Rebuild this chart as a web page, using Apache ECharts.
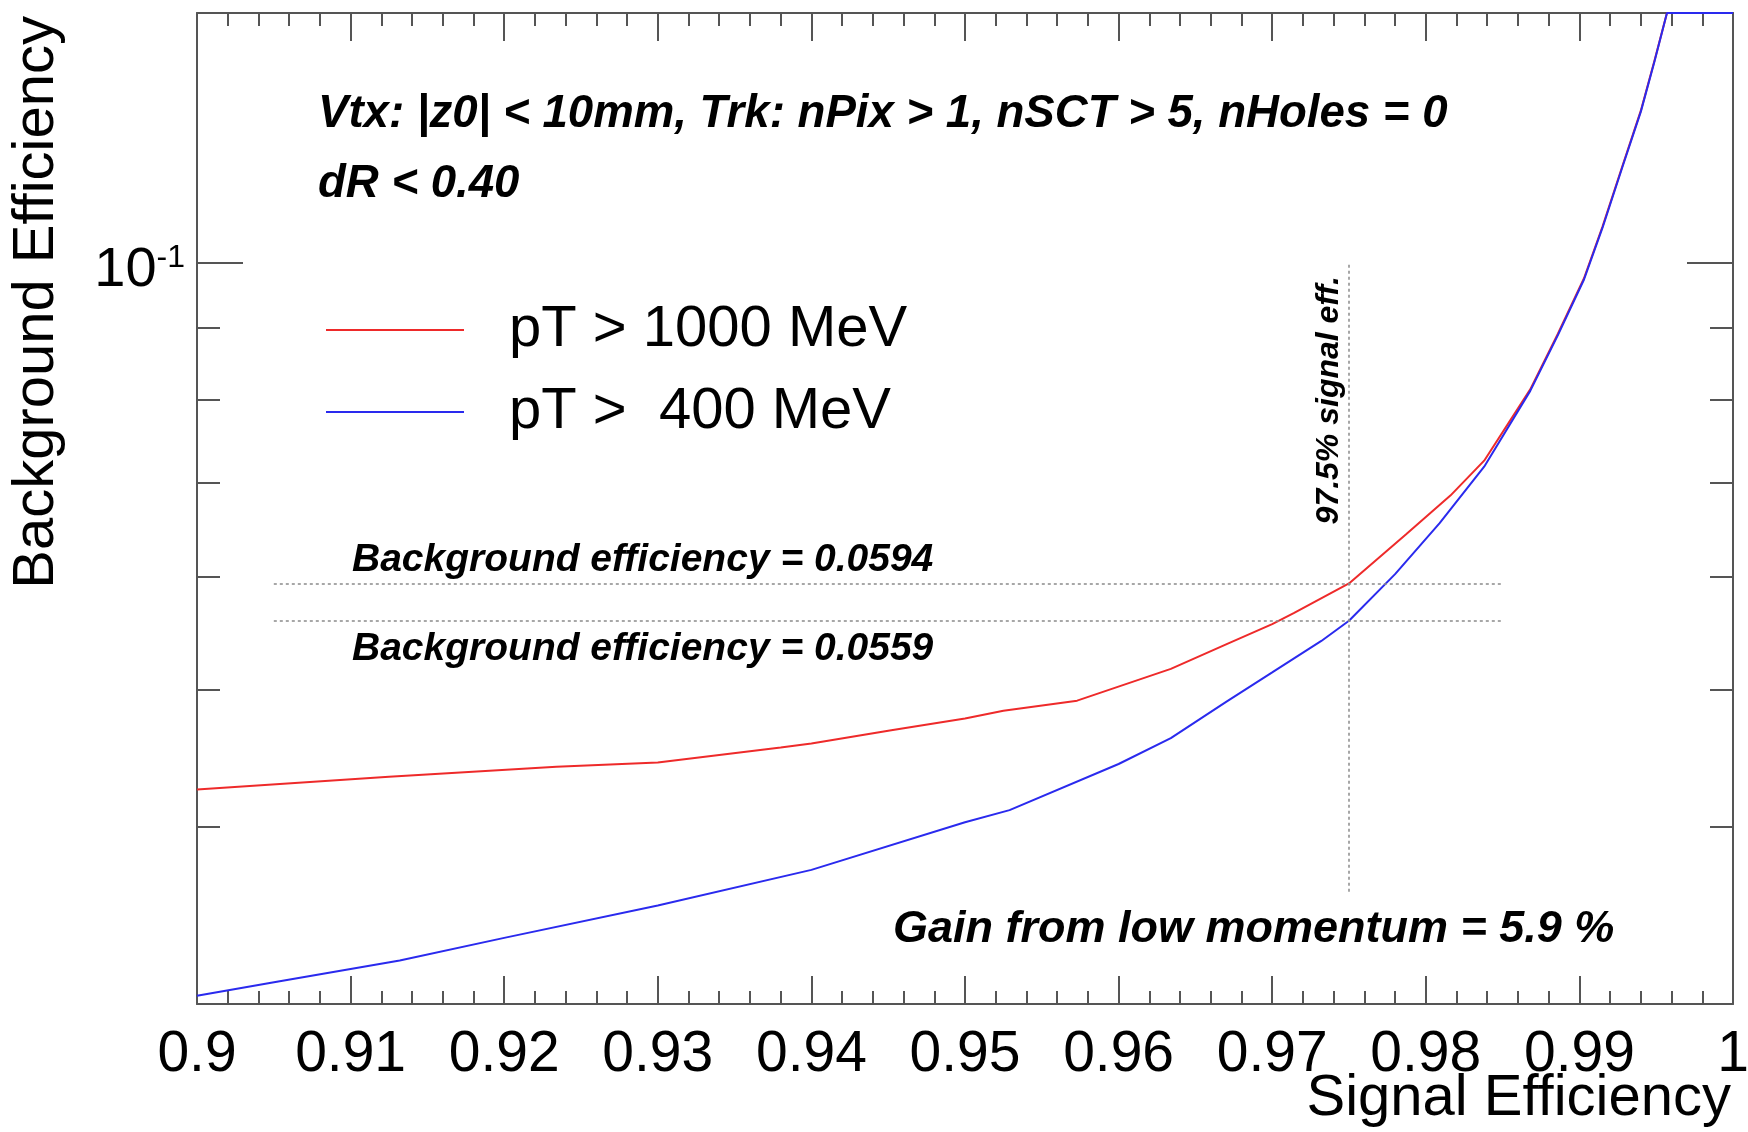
<!DOCTYPE html>
<html>
<head>
<meta charset="utf-8">
<title>Background vs Signal Efficiency</title>
<script src="https://cdn.jsdelivr.net/npm/echarts@6/dist/echarts.min.js"></script>
<style>
  html, body { margin: 0; padding: 0; background: #ffffff; }
  #chart { width: 1748px; height: 1132px; }
</style>
</head>
<body>
<div id="chart"></div>
<script>
// ROC curves: [signal efficiency, background efficiency]
var pt1000 = [
    [0.900, 0.0425], [0.9125, 0.0434], [0.9234, 0.0441], [0.930, 0.0444],
    [0.938, 0.0455], [0.940, 0.0458], [0.9452, 0.0468], [0.950, 0.0477],
    [0.9525, 0.0483], [0.9573, 0.0491], [0.9634, 0.0517],
    [0.967, 0.0538], [0.970, 0.0556], [0.9714, 0.0566], [0.975, 0.0594],
    [0.9787, 0.0643], [0.9816, 0.0685], [0.9838, 0.0725],
    [0.9868, 0.0814], [0.9886, 0.0891], [0.9903, 0.0975], [0.9915, 0.1060],
    [0.9928, 0.1170], [0.9940, 0.1280], [0.9949, 0.1390], [0.9957, 0.1500],
    [1.000, 0.1500]
];
var pt400 = [
    [0.900, 0.0304], [0.9052, 0.0311], [0.9132, 0.0322], [0.920, 0.0334],
    [0.930, 0.0352], [0.940, 0.0373], [0.950, 0.0403], [0.9529, 0.0411],
    [0.960, 0.0443], [0.9634, 0.0462], [0.967, 0.0490], [0.970, 0.0514],
    [0.9732, 0.0541], [0.975, 0.0559], [0.978, 0.0603], [0.9809, 0.0655],
    [0.9838, 0.0718], [0.9868, 0.0812], [0.9886, 0.0889], [0.9903, 0.0973],
    [0.9915, 0.1058], [0.9928, 0.1168], [0.9940, 0.1278], [0.9949, 0.1388],
    [0.9957, 0.1500], [1.000, 0.1500]
];

var seriesNames = ["pT > 1000 MeV", "pT >  400 MeV"];

// axis ticks
var xTickValues = [0.9, 0.91, 0.92, 0.93, 0.94, 0.95, 0.96, 0.97, 0.98, 0.99, 1];
var yMajorTicks = [0.1];
var yMajorLabels = ["{b|10}{s|-1}"];
var yMinorTicks = [0.04, 0.05, 0.06, 0.07, 0.08, 0.09];

// working point lines
var bkgEffLevels = [0.0594, 0.0559];
var bkgLineRange = [0.905, 0.985];
var sigEffCut = 0.975;
var sigLineRange = [0.036, 0.1];

var frameColor = "#555555";
var txtFont = "Liberation Sans";

var myChart = echarts.init(document.getElementById("chart"));

function yAxisCfg(pos, ticks, len, showLine, showLabel) {
    return {
        type: "log",
        position: pos,
        min: 0.03,
        max: 0.15,
        splitLine: { show: false },
        axisLine: { show: showLine, lineStyle: { color: frameColor, width: 2 } },
        axisTick: {
            show: true, inside: true, length: len, customValues: ticks,
            lineStyle: { color: frameColor, width: 2 }
        },
        axisLabel: {
            show: showLabel,
            customValues: yMajorTicks,
            margin: 12,
            padding: [16, 0, 0, 0],
            color: "#000",
            fontFamily: txtFont,
            formatter: function (v) {
                var i = yMajorTicks.indexOf(v);
                return i >= 0 ? yMajorLabels[i] : "";
            },
            rich: {
                b: { fontSize: 56, fontFamily: txtFont, color: "#000" },
                s: { fontSize: 32, fontFamily: txtFont, color: "#000", verticalAlign: "top", padding: [0, 0, 22, 0] }
            }
        }
    };
}

function xAxisCfg(pos, showLabel) {
    return {
        type: "value",
        position: pos,
        min: 0.9,
        max: 1,
        interval: 0.01,
        splitLine: { show: false },
        axisLine: { show: true, lineStyle: { color: frameColor, width: 2 } },
        axisTick: { show: true, inside: true, length: 28, lineStyle: { color: frameColor, width: 2 } },
        minorTick: { show: true, splitNumber: 5, length: 13, lineStyle: { color: frameColor, width: 2 } },
        axisLabel: {
            show: showLabel,
            customValues: xTickValues,
            margin: 23,
            fontSize: 57,
            color: "#000",
            fontFamily: txtFont
        }
    };
}

var dotted = { color: "#8a8a8a", width: 1.5, type: [3, 3] };

var markData = [];
for (var i = 0; i < bkgEffLevels.length; i++) {
    markData.push([
        { coord: [bkgLineRange[0], bkgEffLevels[i]] },
        { coord: [bkgLineRange[1], bkgEffLevels[i]] }
    ]);
}
markData.push([
    { coord: [sigEffCut, sigLineRange[0]] },
    { coord: [sigEffCut, sigLineRange[1]] }
]);

function txt(x, y, text, size, opts) {
    opts = opts || {};
    return {
        type: "text",
        x: x,
        y: y,
        rotation: opts.rot || 0,
        silent: true,
        style: {
            text: text,
            fontFamily: txtFont,
            fontSize: size,
            fontStyle: opts.italic ? "italic" : "normal",
            fontWeight: opts.bold ? "bold" : "normal",
            fill: "#000",
            align: opts.align || "left",
            verticalAlign: "middle"
        }
    };
}

var option = {
    animation: false,
    backgroundColor: "#ffffff",
    grid: {
        left: 197,
        right: 15,
        top: 13,
        bottom: 128,
        outerBoundsMode: "none"
    },
    legend: {
        orient: "vertical",
        left: 325,
        top: 301,
        padding: 0,
        itemGap: 24,
        itemWidth: 138,
        itemHeight: 14,
        itemStyle: { opacity: 0 },
        data: seriesNames,
        textStyle: {
            fontSize: 58,
            fontFamily: txtFont,
            color: "#000",
            padding: [0, 0, 0, 40]
        }
    },
    xAxis: [xAxisCfg("bottom", true), xAxisCfg("top", false)],
    yAxis: [
        yAxisCfg("left", yMajorTicks, 46, true, true),
        yAxisCfg("left", yMinorTicks, 23, false, false),
        yAxisCfg("right", yMajorTicks, 46, true, false),
        yAxisCfg("right", yMinorTicks, 23, false, false)
    ],
    graphic: [
        txt(318, 114, "Vtx: |z0| < 10mm, Trk: nPix > 1, nSCT > 5, nHoles = 0", 45.6, { bold: true, italic: true }),
        txt(318, 184, "dR < 0.40", 45.6, { bold: true, italic: true }),
        txt(352, 560, "Background efficiency = " + bkgEffLevels[0], 39, { bold: true, italic: true }),
        txt(352, 649, "Background efficiency = " + bkgEffLevels[1], 39, { bold: true, italic: true }),
        txt(893, 930, "Gain from low momentum = 5.9 %", 45, { bold: true, italic: true }),
        txt(1329, 276, (sigEffCut * 100).toFixed(1) + "% signal eff.", 32, { bold: true, italic: true, rot: Math.PI / 2, align: "right" }),
        txt(37, 16, "Background Efficiency", 58, { rot: Math.PI / 2, align: "right" }),
        txt(1731, 1099, "Signal Efficiency", 58, { align: "right" })
    ],
    series: [
        {
            name: seriesNames[0],
            type: "line",
            data: pt1000,
            symbol: "none",
            clip: true,
            color: "#ee2a2a",
            lineStyle: { width: 2, color: "#ee2a2a" },
            markLine: {
                silent: true,
                symbol: "none",
                label: { show: false },
                lineStyle: dotted,
                data: markData
            }
        },
        {
            name: seriesNames[1],
            type: "line",
            data: pt400,
            symbol: "none",
            clip: true,
            color: "#2a2aee",
            lineStyle: { width: 2, color: "#2a2aee" }
        }
    ]
};

myChart.setOption(option);
</script>
</body>
</html>
